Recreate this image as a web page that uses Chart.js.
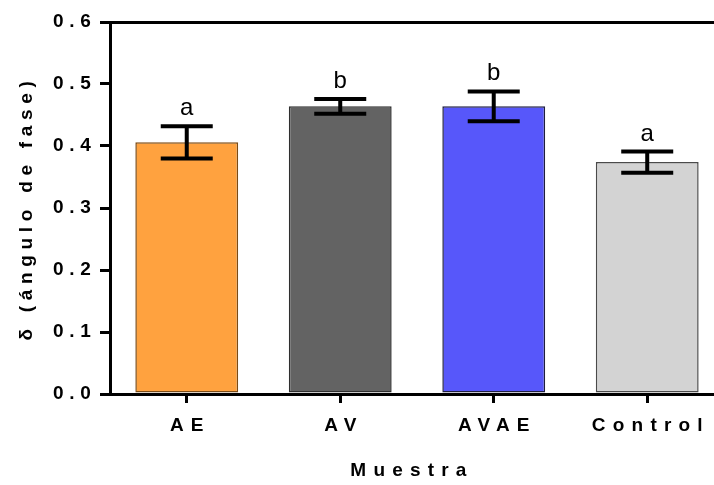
<!DOCTYPE html>
<html>
<head>
<meta charset="utf-8">
<script src="https://cdn.jsdelivr.net/npm/chart.js@4/dist/chart.umd.min.js"></script>
<style>
  html, body { margin: 0; padding: 0; background: #fff; overflow: hidden; }
  #c { display: block; }
</style>
</head>
<body>
<canvas id="c" width="714" height="485"></canvas>
<script>
// Phase angle by sample: group means, standard errors and significance letters
const categories = ['AE', 'AV', 'AVAE', 'Control'];
const meanValues = [0.406, 0.464, 0.464, 0.374];
const errorValues = [0.026, 0.012, 0.024, 0.017];
const sigLetters = ['a', 'b', 'b', 'a'];
const yTicks = [0.0, 0.1, 0.2, 0.3, 0.4, 0.5, 0.6];

const fillColors = ['#FFA23F', '#636363', '#5757FA', '#D3D3D3'];
const edgeColors = ['#7A4A14', '#2E2E2E', '#1E1E40', '#4A4A4A'];

const X_MIN = -0.5, X_MAX = 3.435;
const LABEL_FONT = 'Liberation Sans, Arial, sans-serif';

// Wide letter spacing on the axis text, applied per scale while it measures and draws
const letterSpacingByScale = { x: '7.2px', y: '5.7px' };
const spacedText = {
  id: 'spacedText',
  beforeLayout(chart) {
    for (const s of Object.values(chart.scales)) {
      const sp = letterSpacingByScale[s.id];
      if (!sp || s._spaced) continue;
      const fit = s.fit, draw = s.draw;
      s.fit = function () {
        const c = this.ctx, prev = c.letterSpacing;
        c.letterSpacing = sp;
        fit.call(this);
        c.letterSpacing = prev;
      };
      s.draw = function (area) {
        const c = this.ctx, prev = c.letterSpacing;
        c.letterSpacing = sp;
        draw.call(this, area);
        c.letterSpacing = prev;
      };
      s._spaced = true;
    }
  }
};

// Error bars (mean ± SE) and significance letters above each bar
const errorBars = {
  id: 'errorBars',
  afterDatasetsDraw(chart) {
    const ctx = chart.ctx;
    const y = chart.scales.y;
    const meta = chart.getDatasetMeta(0);
    ctx.save();
    ctx.letterSpacing = '0px';
    ctx.strokeStyle = '#000';
    ctx.lineWidth = 4;
    ctx.lineCap = 'butt';
    meta.data.forEach((bar, i) => {
      const cx = bar.x;
      const top = y.getPixelForValue(meanValues[i] + errorValues[i]);
      const bot = y.getPixelForValue(meanValues[i] - errorValues[i]);
      const half = 26;
      ctx.beginPath();
      ctx.moveTo(cx, top); ctx.lineTo(cx, bot);
      ctx.moveTo(cx - half, top); ctx.lineTo(cx + half, top);
      ctx.moveTo(cx - half, bot); ctx.lineTo(cx + half, bot);
      ctx.stroke();
      ctx.fillStyle = '#000';
      ctx.font = '24px ' + LABEL_FONT;
      ctx.textAlign = 'center';
      ctx.textBaseline = 'alphabetic';
      ctx.fillText(sigLetters[i], cx, top - 11);
    });
    ctx.restore();
  }
};

new Chart(document.getElementById('c'), {
  type: 'bar',
  data: {
    datasets: [{
      data: categories.map((_, i) => ({ x: i, y: meanValues[i] })),
      backgroundColor: fillColors,
      borderColor: edgeColors,
      borderWidth: 1.5,
      borderSkipped: false,
      categoryPercentage: 1,
      barPercentage: 0.67
    }]
  },
  options: {
    responsive: false,
    animation: false,
    devicePixelRatio: 1,
    layout: { padding: { top: 22, left: 11, right: 0, bottom: 0 } },
    plugins: { legend: { display: false }, tooltip: { enabled: false } },
    scales: {
      x: {
        type: 'linear',
        position: 'bottom',
        offset: false,
        min: X_MIN,
        max: X_MAX,
        afterBuildTicks(scale) { scale.ticks = categories.map((_, i) => ({ value: i })); },
        afterFit(scale) {
          scale.height = 91;
          scale.paddingLeft = 0;
          scale.paddingRight = 0;
        },
        ticks: {
          color: '#000',
          padding: 11,
          labelOffset: 3.6,
          maxRotation: 0,
          autoSkip: false,
          font: { family: LABEL_FONT, size: 19, weight: 'bold' },
          callback: (v) => categories[v] ?? ''
        },
        grid: { display: true, offset: false, drawOnChartArea: false, drawTicks: true, tickLength: 9, color: '#000', lineWidth: 3 },
        border: { display: true, color: '#000', width: 3 },
        title: {
          display: true,
          text: 'Muestra',
          color: '#000',
          font: { family: LABEL_FONT, size: 19, weight: 'bold' },
          padding: { top: 0, bottom: 2.5 }
        }
      },
      x2: {
        type: 'linear',
        position: 'top',
        offset: false,
        min: X_MIN,
        max: X_MAX,
        afterFit(scale) {
          scale.height = 0;
          scale.paddingLeft = 0;
          scale.paddingRight = 0;
        },
        ticks: { display: false },
        grid: { display: false, offset: false, drawTicks: false },
        border: { display: true, color: '#000', width: 3 }
      },
      y: {
        min: 0,
        max: 0.6,
        afterBuildTicks(scale) { scale.ticks = yTicks.map(v => ({ value: v })); },
        afterFit(scale) { scale.width = 99; },
        ticks: {
          color: '#000',
          padding: 3.5,
          font: { family: LABEL_FONT, size: 19, weight: 'bold' },
          callback: (v) => Number(v).toFixed(1)
        },
        grid: { display: true, drawOnChartArea: false, drawTicks: true, tickLength: 10, color: '#000', lineWidth: 3 },
        border: { display: true, color: '#000', width: 3 },
        title: {
          display: true,
          text: 'δ (ángulo de fase)',
          color: '#000',
          font: { family: LABEL_FONT, size: 19, weight: 'bold' },
          padding: { top: 4, bottom: 14 }
        }
      }
    }
  },
  plugins: [spacedText, errorBars]
});
</script>
</body>
</html>
